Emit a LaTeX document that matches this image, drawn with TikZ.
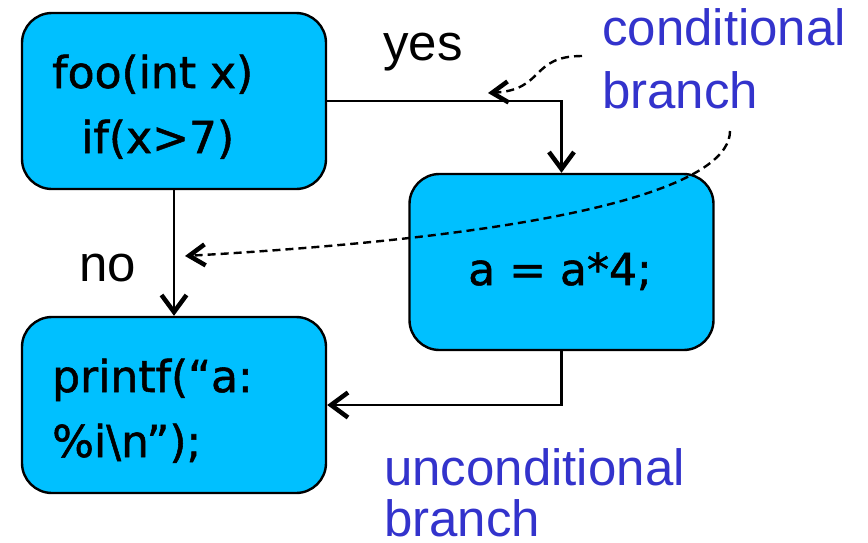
\documentclass[tikz,border=0pt]{standalone}
\usepackage{fontspec}
\setmainfont{Liberation Sans}
\newfontfamily\codefont[FakeBold=1.2]{DejaVu Sans}
\usetikzlibrary{arrows.meta}
\definecolor{boxfill}{RGB}{0,192,255}
\definecolor{notecol}{RGB}{51,51,204}
\tikzset{
  block/.style={draw=black, line width=2.4pt, fill=boxfill, rounded corners=30pt,
    minimum width=304pt, minimum height=176pt, inner sep=0pt},
  code/.style={font=\codefont\fontsize{44}{52}\selectfont, inner sep=0pt},
  label/.style={font=\fontsize{51}{61}\selectfont, inner sep=0pt, anchor=base west},
  note/.style={label, text=notecol},
  flow/.style={line width=2.5pt, -{Straight Barb[length=17pt, width=25pt, line width=4.5pt]}},
  hint/.style={line width=2.4pt, dash pattern=on 8pt off 5pt,
    -{Straight Barb[length=16pt, width=21pt, line width=4.5pt]}}
}
\begin{document}
\begin{tikzpicture}[x=1pt, y=-1pt]
  \useasboundingbox (0,0) rectangle (868,542);

  % basic blocks
  \node[block] (entry) at (174,101) {};
  \node[block] (print) at (174,405) {};
  \node[block] (mult)  at (561.5,262) {};

  % block contents
  \node[code, anchor=base west] (l1) at (52,88) {foo(int x)};
  \node[code, anchor=base west] (l2) at (81,153) {if(x>7)};
  \node[code, anchor=base west] (l3) at (52,392) {printf(“a:};
  \node[code, anchor=base west] (l4) at (52,457) {\%i\textbackslash n”);};
  \node[code, anchor=base] (l5) at (560,285) {a = a*4;};

  % control flow edges
  \draw[flow] (entry.east) -| (mult.north);
  \draw[flow] (entry.south) -- (print.north);
  \draw[flow] (mult.south) |- (print.east);

  % edge labels
  \node[label] (yes) at (383,60) {yes};
  \node[label] (no) at (79,281) {no};

  % annotations
  \node[note] (cond1) at (602,45) {conditional};
  \node[note] (cond2) at (602,108) {branch};
  \node[note] (unc1) at (384,485) {unconditional};
  \node[note] (unc2) at (384,536) {branch};

  \coordinate (c1) at (582,56);
  \coordinate (t1) at (488,93);
  \coordinate (c2) at (730,131);
  \coordinate (t2) at (185,256);
  \draw[hint] (c1) .. controls (530,56) and (545,90) .. (t1);
  \draw[hint] (c2) .. controls (730,178) and (610,232) .. (t2);
\end{tikzpicture}
\end{document}
